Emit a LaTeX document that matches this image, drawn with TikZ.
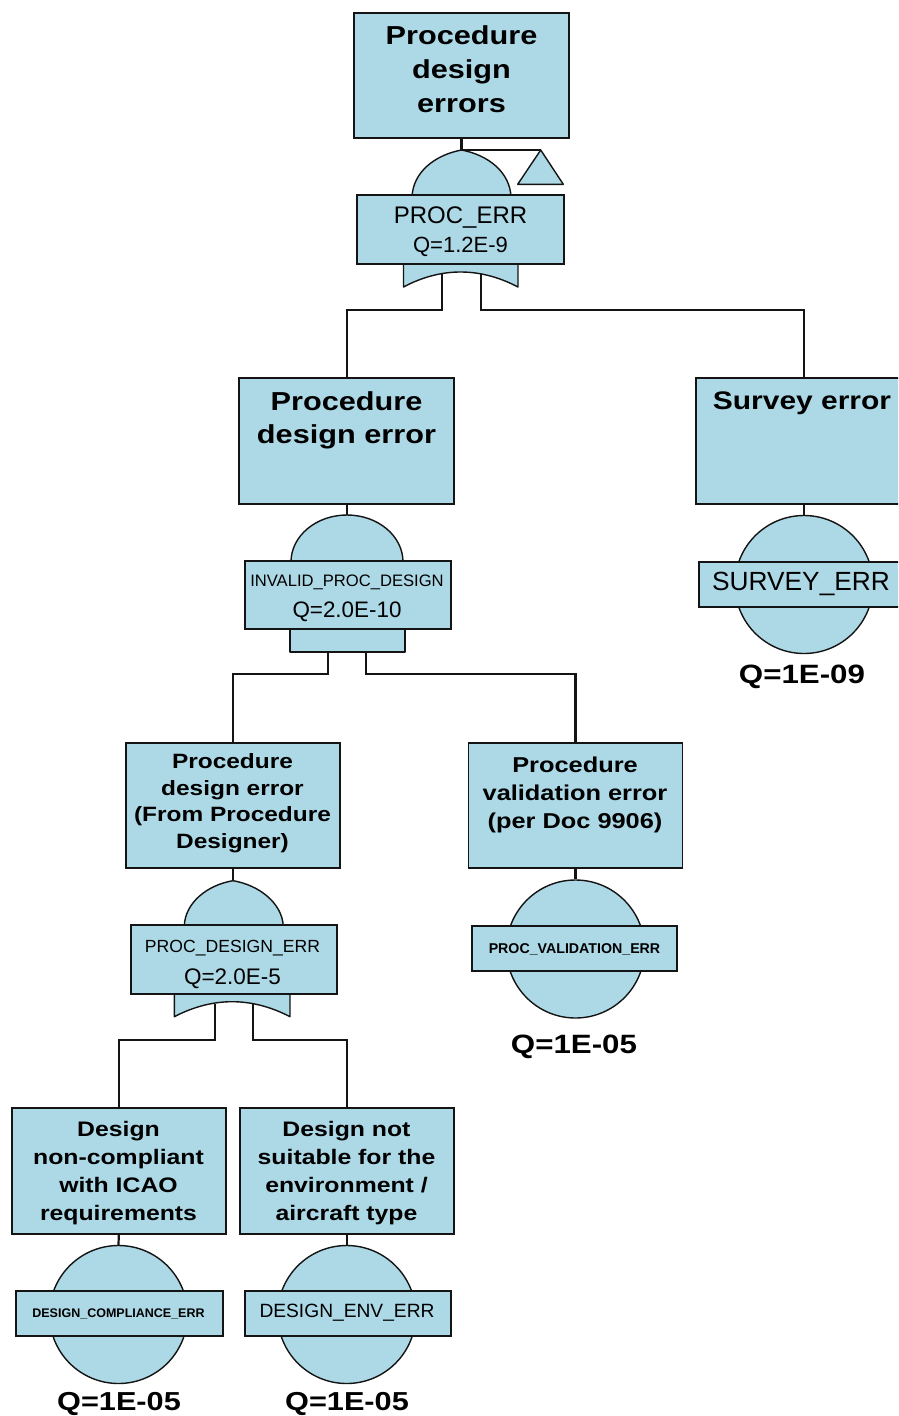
\documentclass[tikz,border=0pt]{standalone}
\usepackage{fontspec}
\setmainfont{Liberation Sans}
\newfontfamily\wideface{Liberation Sans}[FakeStretch=1.18]
\usetikzlibrary{backgrounds}
\definecolor{fta}{RGB}{173,216,230}
\definecolor{edge}{RGB}{20,20,20}
\newcommand\fsz[2]{\fontsize{#1}{#2}\selectfont}

\tikzset{
  evbox/.style={draw=edge, fill=fta, line width=1.9, rectangle, inner sep=0,
                minimum width=215, minimum height=126},
  gatebox/.style={draw=edge, fill=fta, line width=1.9, rectangle, inner sep=0,
                  minimum width=206, minimum height=69},
  bebox/.style={draw=edge, fill=fta, line width=1.9, rectangle, inner sep=0,
                minimum width=206, minimum height=45},
  becirc/.style={draw=edge, fill=fta, line width=1.4, circle, inner sep=0,
                 minimum size=138},
  gate/.style={draw=edge, fill=fta, line width=1.4, line join=round},
  wire/.style={draw=edge, line width=2.2},
  title/.style={inner sep=0, align=center, anchor=north},
  lbl/.style={inner sep=0, anchor=base},
}

\begin{document}
\begin{tikzpicture}[x=1pt, y=-1pt]
\useasboundingbox (0,0) rectangle (898,1416);
\clip (0,0) rectangle (898,1416);

% ---------- event description boxes ----------
\node[evbox, minimum height=125] (top) at (461.5,75.8) {};
\node[evbox] (pde) at (346.7,440.6) {};
\node[evbox, minimum width=216] (survey) at (804,440.8) {};
\node[evbox, minimum width=214, minimum height=125] (mdl) at (233,805.8) {};
\node[evbox, minimum width=214, minimum height=125] (mdr) at (575.5,805.8) {};
\node[evbox, minimum width=214, minimum height=126] (bl) at (118.8,1171.2) {};
\node[evbox, minimum width=214, minimum height=126] (br) at (346.7,1171.2) {};

% ---------- OR gate PROC_ERR with transfer triangle ----------
\coordinate (g1apex) at (461.5,150);
\coordinate (xfer) at (540.7,150);
\path[gate] (412,197) .. controls (413,172) and (435,155) .. (g1apex)
            .. controls (488,155) and (510,172) .. (511,197) -- cycle;
\path[gate] (403.5,262) -- (403.5,287) .. controls (441,267) and (480,267)
            .. (518,287) -- (518,262) -- cycle;
\path[gate] (xfer) -- (563.3,184.3) -- (517.7,184.3) -- cycle;
\node[gatebox, minimum width=206.7] (g1) at (460.7,229.5) {};
\coordinate (g1in1) at (441.7,274);
\coordinate (g1in2) at (480.7,274);

% ---------- AND gate INVALID_PROC_DESIGN ----------
\coordinate (g2top) at (346.7,515);
\path[gate] (291,562) arc[start angle=180, end angle=360, x radius=56, y radius=47];
\path[gate] (290,628) rectangle (405,652);
\node[gatebox, minimum width=205.7, minimum height=68.3] (g2) at (347.8,595.2) {};
\coordinate (g2in1) at (327.7,652);
\coordinate (g2in2) at (366,652);

% ---------- OR gate PROC_DESIGN_ERR ----------
\coordinate (g3apex) at (233,880.7);
\path[gate] (184.3,926) .. controls (185,903) and (207,885) .. (g3apex)
            .. controls (259,885) and (282,903) .. (283.3,926) -- cycle;
\path[gate] (174.3,992) -- (174.3,1016.7) .. controls (212.8,996.7) and (251.5,996.7)
            .. (290,1016.7) -- (290,992) -- cycle;
\node[gatebox, minimum width=205.7] (g3) at (233.8,959.5) {};
\coordinate (g3in1) at (215,1004);
\coordinate (g3in2) at (252.7,1004);

% ---------- basic events ----------
\node[becirc] (be1) at (804,584.5) {};
\node[bebox] (be1l) at (802.3,584.5) {};
\node[becirc] (be2) at (575.5,949) {};
\node[bebox, minimum width=205.6] (be2l) at (574.5,948.2) {};
\node[becirc] (be3) at (118.5,1314.5) {};
\node[bebox, minimum width=206.7] (be3l) at (119.3,1313.5) {};
\node[becirc] (be4) at (346.7,1314.5) {};
\node[bebox, minimum width=205.7] (be4l) at (347.8,1313.5) {};

% ---------- connectors (behind the symbols) ----------
\begin{pgfonlayer}{background}
\draw[wire] (top.south) -- (g1apex) -- (xfer);
\draw[wire] (g1in1) -- ++(0,36) -| (pde.north);
\draw[wire] (g1in2) -- ++(0,36) -| (survey.north);
\draw[wire] (pde.south) -- (g2top);
\draw[wire] (survey.south) -- (be1.north);
\draw[wire] (g2in1) -- ++(0,22) -| (mdl.north);
\draw[wire] (g2in2) -- ++(0,22) -| (mdr.north);
\draw[wire] (mdl.south) -- (g3apex);
\draw[wire] (mdr.south) -- (be2.north);
\draw[wire] (g3in1) -- ++(0,36) -| (bl.north);
\draw[wire] (g3in2) -- ++(0,36) -| (br.north);
\draw[wire] (bl.south) -- (be3.north);
\draw[wire] (br.south) -- (be4.north);
\end{pgfonlayer}

% ---------- event texts ----------
\node[title, font={\wideface\bfseries\fsz{26}{34}}] (toptxt) at (461.5,25.4)
  {Procedure\\design\\errors};
\node[title, font={\wideface\bfseries\fsz{26}{33.5}}] (pdetxt) at (346.5,391.4)
  {Procedure\\design error};
\node[lbl, font={\wideface\bfseries\fsz{25.4}{30}}] (surveytxt) at (802,409.3)
  {Survey error};
\node[title, font={\wideface\bfseries\fsz{20.7}{26.5}}] (mdltxt) at (232.5,753.5)
  {Procedure\\design error\\(From Procedure\\Designer)};
\node[title, font={\wideface\bfseries\fsz{21.5}{28.3}}] (mdrtxt) at (575,756.3)
  {Procedure\\validation error\\(per Doc 9906)};
\node[title, font={\wideface\bfseries\fsz{21}{28}}] (bltxt) at (118.5,1121)
  {Design\\non-compliant\\with ICAO\\requirements};
\node[title, font={\wideface\bfseries\fsz{21}{28}}] (brtxt) at (346.5,1121)
  {Design not\\suitable for the\\environment /\\aircraft type};

% ---------- gate labels ----------
\node[lbl, font={\fsz{24}{28}}] (g1name) at (460.5,223) {PROC\_ERR};
\node[lbl, font={\fsz{22}{26}}] (g1q) at (460.5,252.7) {Q=1.2E-9};
\node[lbl, font={\fsz{16.6}{20}}] (g2name) at (347,586) {INVALID\_PROC\_DESIGN};
\node[lbl, font={\fsz{22.4}{26}}] (g2q) at (347,617.3) {Q=2.0E-10};
\node[lbl, font={\fsz{17.6}{21}}] (g3name) at (232.5,952.7) {PROC\_DESIGN\_ERR};
\node[lbl, font={\fsz{22.5}{26}}] (g3q) at (232.5,984) {Q=2.0E-5};

% ---------- basic event labels ----------
\node[lbl, font={\fsz{26.3}{30}}] (be1name) at (801,590.7) {SURVEY\_ERR};
\node[lbl, font={\bfseries\fsz{14.2}{17}}] (be2name) at (574.5,953.3) {PROC\_VALIDATION\_ERR};
\node[lbl, font={\bfseries\fsz{12.5}{15}}] (be3name) at (118.5,1317.3) {DESIGN\_COMPLIANCE\_ERR};
\node[lbl, font={\fsz{19.2}{23}}] (be4name) at (347,1317.3) {DESIGN\_ENV\_ERR};

\node[lbl, font={\wideface\bfseries\fsz{26.5}{30}}] (be1q) at (802,683.3) {Q=1E-09};
\node[lbl, font={\wideface\bfseries\fsz{26.5}{30}}] (be2q) at (574,1053) {Q=1E-05};
\node[lbl, font={\wideface\bfseries\fsz{26}{30}}] (be3q) at (119,1410.5) {Q=1E-05};
\node[lbl, font={\wideface\bfseries\fsz{26}{30}}] (be4q) at (347,1410.5) {Q=1E-05};
\end{tikzpicture}
\end{document}
